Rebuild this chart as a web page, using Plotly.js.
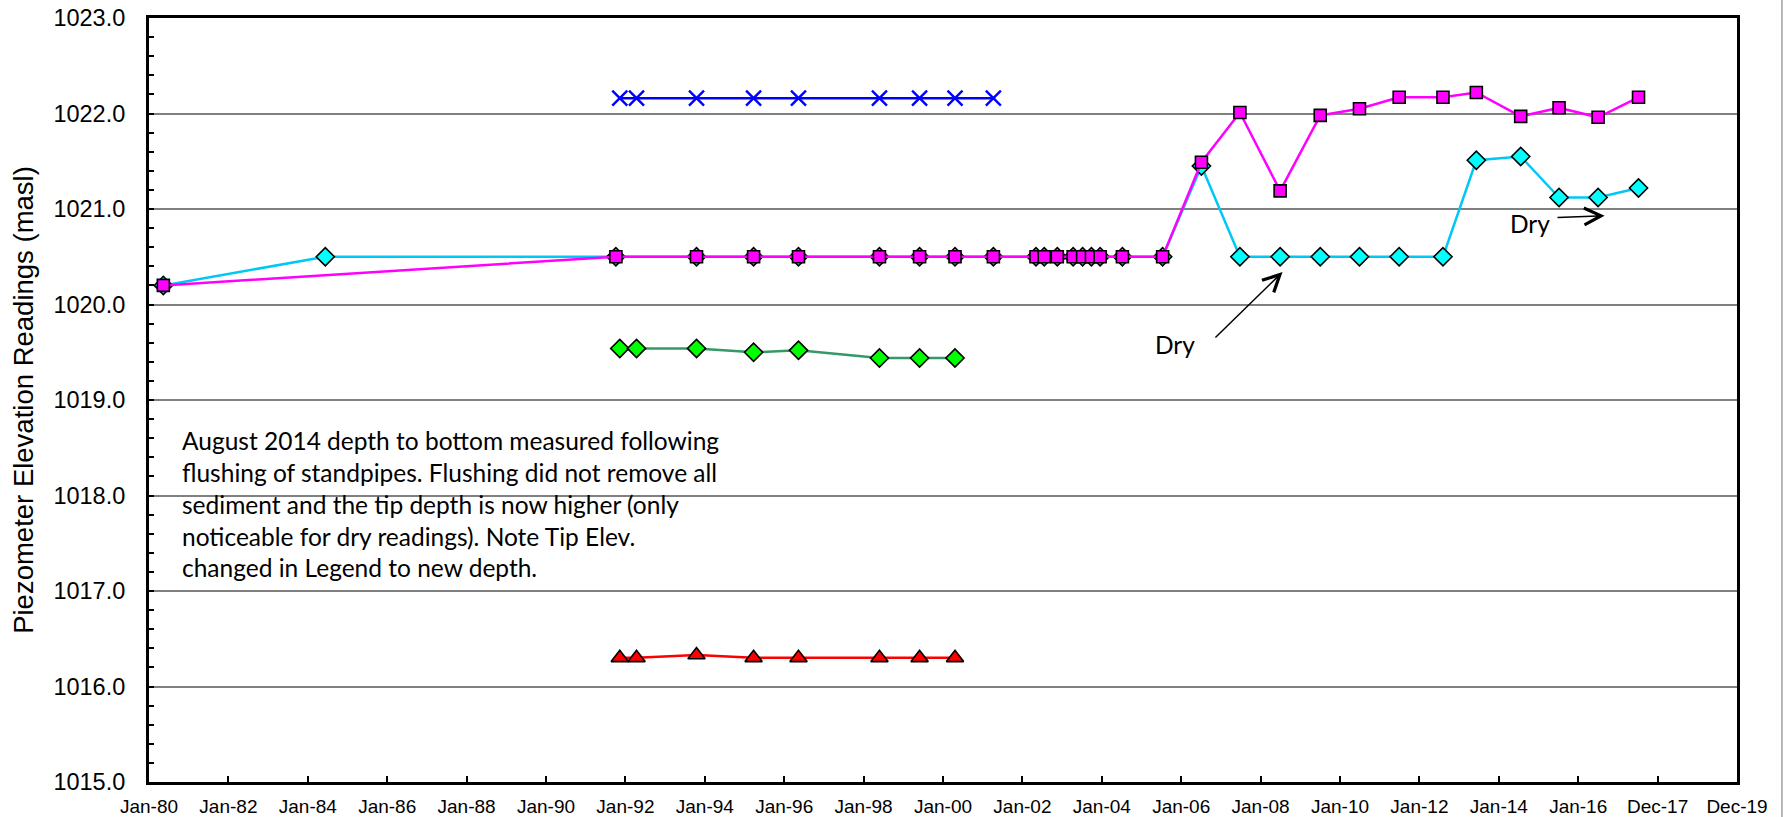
<!DOCTYPE html>
<html>
<head>
<meta charset="utf-8">
<script src="https://cdn.plot.ly/plotly-3.0.1.min.js"></script>
<style>html,body{margin:0;padding:0;background:#fff;}#chart{width:1786px;height:817px;}</style>
</head>
<body>
<div id="chart"></div>
<script>
// ---- Data ----
const tickLabels = ['Jan-80','Jan-82','Jan-84','Jan-86','Jan-88','Jan-90','Jan-92','Jan-94','Jan-96','Jan-98',
  'Jan-00','Jan-02','Jan-04','Jan-06','Jan-08','Jan-10','Jan-12','Jan-14','Jan-16','Dec-17','Dec-19'];

const blueDates = ['1991-11-10','1992-04-12','1993-10-16','1995-03-25','1996-05-11','1998-05-26','1999-05-30','2000-04-20','2001-04-08'];
const blueVals  = [1022.16,1022.16,1022.16,1022.16,1022.16,1022.16,1022.16,1022.16,1022.16];

const greenDates = ['1991-11-10','1992-04-12','1993-10-16','1995-03-25','1996-05-11','1998-05-26','1999-05-30','2000-04-20'];
const greenVals  = [1019.54,1019.54,1019.54,1019.50,1019.52,1019.44,1019.44,1019.44];

const redDates = ['1991-11-10','1992-04-12','1993-10-16','1995-03-25','1996-05-11','1998-05-26','1999-05-30','2000-04-20'];
const redVals  = [1016.30,1016.30,1016.33,1016.30,1016.30,1016.30,1016.30,1016.30];

const cyanDates = ['1980-05-12','1984-06-10','1991-10-05','1993-10-16','1995-03-25','1996-05-11','1998-05-26','1999-05-30',
  '2000-04-20','2001-04-08','2002-05-05','2002-07-20','2002-11-17','2003-04-12','2003-07-08','2003-09-27','2003-12-16',
  '2004-07-08','2005-07-13','2006-07-05','2007-06-24','2008-06-28','2009-07-02','2010-06-28','2011-06-28','2012-08-04',
  '2013-06-07','2014-07-20','2015-07-08','2016-07-01','2017-07-08'];
const cyanVals = [1020.2,1020.5,1020.5,1020.5,1020.5,1020.5,1020.5,1020.5,
  1020.5,1020.5,1020.5,1020.5,1020.5,1020.5,1020.5,1020.5,1020.5,
  1020.5,1020.5,1021.45,1020.5,1020.5,1020.5,1020.5,1020.5,1020.5,
  1021.51,1021.55,1021.12,1021.12,1021.22];

const magDates = ['1980-05-12','1991-10-05','1993-10-16','1995-03-25','1996-05-11','1998-05-26','1999-05-30',
  '2000-04-20','2001-04-08','2002-05-05','2002-07-20','2002-11-17','2003-04-12','2003-07-08','2003-09-27','2003-12-16',
  '2004-07-08','2005-07-13','2006-07-05','2007-06-24','2008-06-28','2009-07-02','2010-06-28','2011-06-28','2012-08-04',
  '2013-06-07','2014-07-20','2015-07-08','2016-07-01','2017-07-08'];
const magVals = [1020.2,1020.5,1020.5,1020.5,1020.5,1020.5,1020.5,
  1020.5,1020.5,1020.5,1020.5,1020.5,1020.5,1020.5,1020.5,1020.5,
  1020.5,1020.5,1021.49,1022.01,1021.19,1021.98,1022.05,1022.17,1022.17,
  1022.22,1021.97,1022.06,1021.96,1022.17];

const noteLines = [
  'August 2014 depth to bottom measured following',
  'flushing of standpipes. Flushing did not remove all',
  'sediment and the tip depth is now higher (only',
  'noticeable for dry readings). Note Tip Elev.',
  'changed in Legend to new depth.'
];

// ---- Axis ticks (evenly spaced) ----
const t0 = Date.UTC(1980,0,1), t1 = Date.UTC(2019,11,31);
const tickVals = tickLabels.map((_, i) => t0 + i * (t1 - t0) / (tickLabels.length - 1));

const lw = 2.5;
const traces = [
  {x: blueDates, y: blueVals, mode: 'lines+markers', line: {color: '#0000FF', width: lw},
   marker: {symbol: 'x-thin', size: 15, line: {color: '#0000FF', width: 2.4}}},
  {x: greenDates, y: greenVals, mode: 'lines+markers', line: {color: '#339966', width: lw},
   marker: {symbol: 'diamond', size: 14, color: '#00FF00', line: {color: '#000', width: 1.6}}},
  {x: redDates, y: redVals, mode: 'lines+markers', line: {color: '#FF0000', width: lw},
   marker: {symbol: 'triangle-up', size: 15, color: '#FF0000', line: {color: '#000', width: 1.6}}},
  {x: cyanDates, y: cyanVals, mode: 'lines+markers', line: {color: '#00C8F5', width: lw},
   marker: {symbol: 'diamond', size: 14, color: '#00FFFF', line: {color: '#000', width: 1.6}}},
  {x: magDates, y: magVals, mode: 'lines+markers', line: {color: '#FF00FF', width: lw},
   marker: {symbol: 'square', size: 12, color: '#FF00FF', line: {color: '#000', width: 1.6}}}
];

const noteFont = {family: 'Lato, "Open Sans", sans-serif', size: 24.5, color: '#000'};

const layout = {
  width: 1786, height: 817,
  margin: {l: 149, r: 49, t: 18, b: 35},
  paper_bgcolor: '#fff', plot_bgcolor: '#fff',
  showlegend: false,
  font: {family: '"Liberation Sans", Arial, sans-serif', color: '#000'},
  xaxis: {
    type: 'date', range: [t0, t1],
    tickmode: 'array', tickvals: tickVals, ticktext: tickLabels,
    ticks: 'inside', ticklen: 6, tickwidth: 2, tickcolor: '#000',
    showline: true, linecolor: '#000', linewidth: 3, mirror: true,
    showgrid: false, zeroline: false,
    tickfont: {size: 19, color: '#000'},
    ticklabelstandoff: 5
  },
  yaxis: {
    range: [1015, 1023], dtick: 1, tick0: 1015, tickformat: '.1f',
    ticks: 'inside', ticklen: 5, tickwidth: 2, tickcolor: '#000',
    minor: {dtick: 0.2, ticks: 'inside', ticklen: 5, tickwidth: 2, tickcolor: '#000', showgrid: false},
    showline: true, linecolor: '#000', linewidth: 3, mirror: true,
    showgrid: true, gridcolor: '#808080', gridwidth: 2, zeroline: false,
    tickfont: {size: 23.5, color: '#000'},
    ticklabelstandoff: 16,
    title: {text: 'Piezometer Elevation Readings (masl)', font: {size: 27.5, color: '#000'}, standoff: 12}
  },
  shapes: [
    {type: 'line', xref: 'paper', yref: 'paper', x0: 1.0283, x1: 1.0283, y0: -0.05, y1: 1.03,
     line: {color: '#a0a0a0', width: 1.5}}
  ],
  annotations: [
    {xref: 'paper', yref: 'paper', x: 0.0195, y: 0.468, xanchor: 'left', yanchor: 'top', align: 'left',
     showarrow: false, text: noteLines.join('<br>'), font: noteFont},
    {x: '2005-11-01', y: 1019.58, text: 'Dry', showarrow: false, font: noteFont},
    {x: '2014-10-15', y: 1020.85, text: 'Dry', showarrow: false, font: noteFont},
    {x: '2008-07-20', y: 1020.34, ax: '2006-10-28', ay: 1019.64, axref: 'x', ayref: 'y', text: '',
     showarrow: true, arrowhead: 5, arrowsize: 2.2, arrowwidth: 1.5, arrowcolor: '#000'},
    {x: '2016-08-30', y: 1020.93, ax: '2015-06-10', ay: 1020.91, axref: 'x', ayref: 'y', text: '',
     showarrow: true, arrowhead: 5, arrowsize: 2.2, arrowwidth: 1.5, arrowcolor: '#000'}
  ]
};

Plotly.newPlot('chart', traces, layout, {displayModeBar: false, staticPlot: true});
</script>
</body>
</html>
